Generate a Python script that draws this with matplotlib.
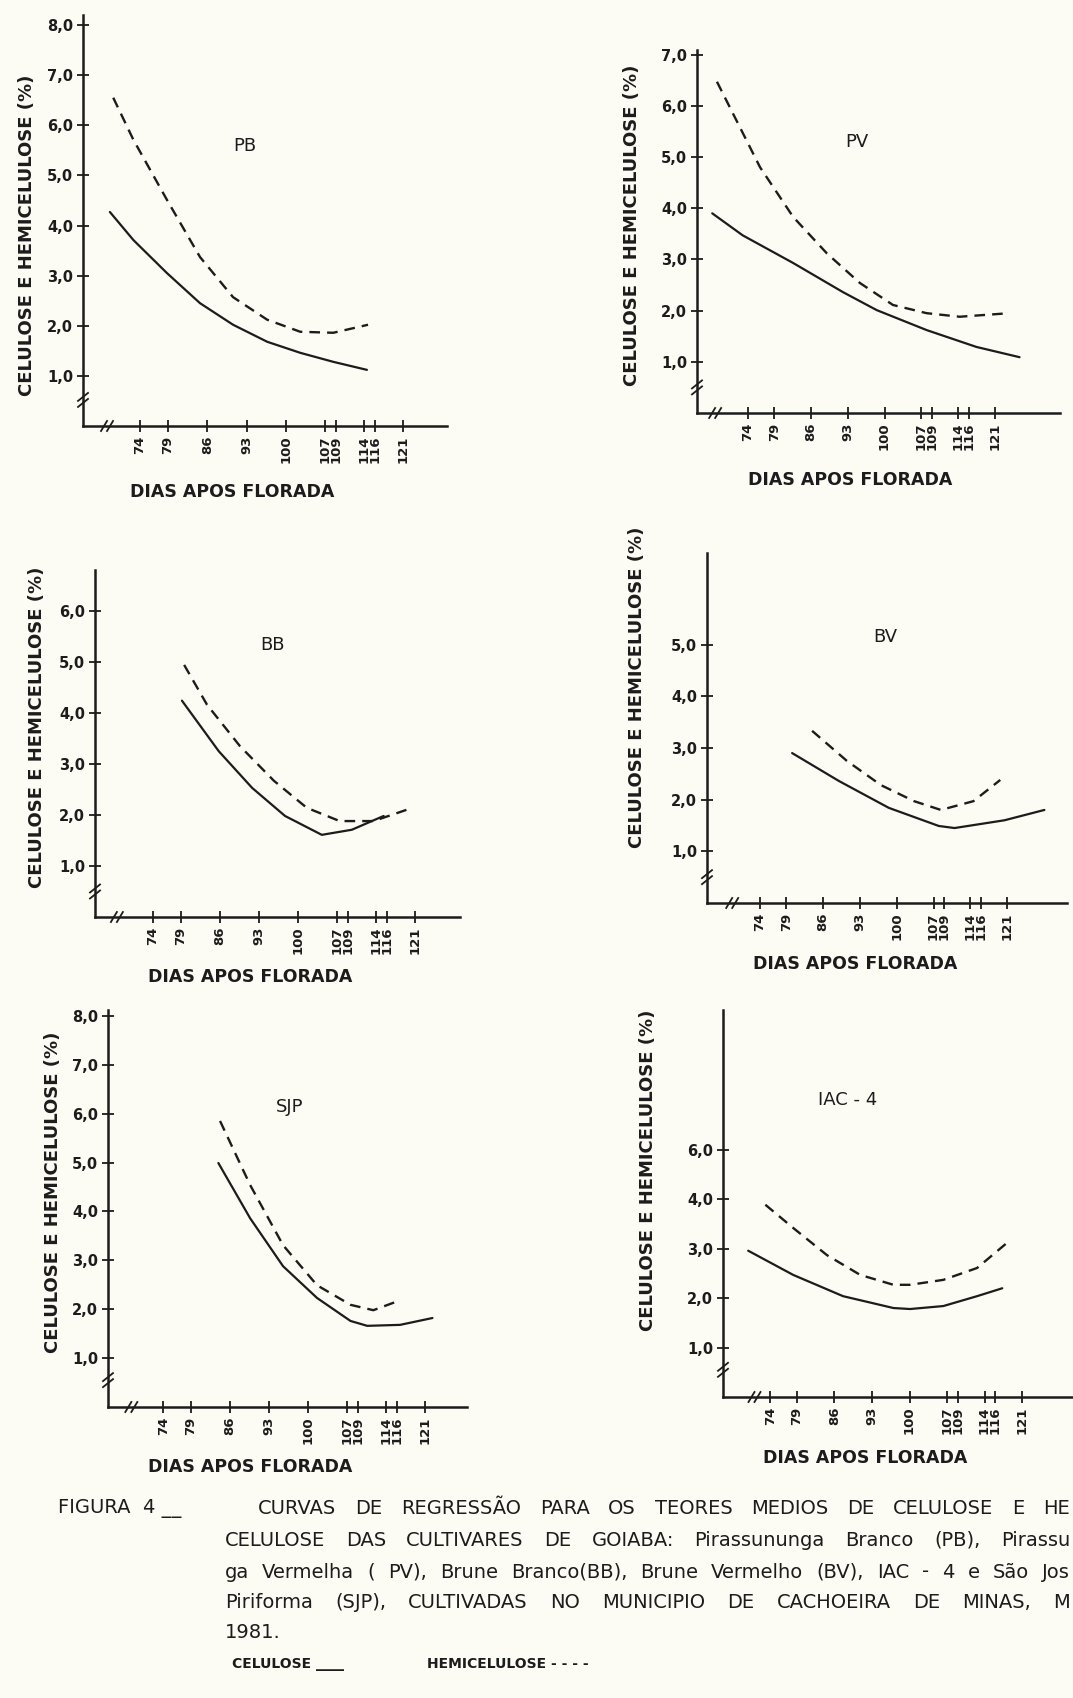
import numpy as np
import matplotlib
matplotlib.use("Agg")
import matplotlib.pyplot as plt

# ---------------- data ----------------
xtick_days = [74, 79, 86, 93, 100, 107, 109, 114, 116, 121]
xtick_labels = [str(d) for d in xtick_days]

# PB
pb_cel_days = [68.6, 72.8, 78.8, 84.7, 90.6, 96.7, 102.6, 108.5, 114.5]
pb_cel_vals = [4.27, 3.71, 3.05, 2.45, 2.02, 1.68, 1.46, 1.28, 1.12]
pb_hem_days = [69.2, 72.8, 78.8, 84.7, 90.6, 96.7, 102.6, 108.5, 114.7]
pb_hem_vals = [6.55, 5.71, 4.51, 3.37, 2.57, 2.12, 1.88, 1.86, 2.02]
# PV
pv_cel_days = [67.2, 73.0, 82.6, 92.1, 98.5, 108.0, 117.5, 125.7]
pv_cel_vals = [3.90, 3.47, 2.93, 2.36, 2.01, 1.62, 1.29, 1.09]
pv_hem_days = [68.1, 76.3, 82.6, 89.0, 95.3, 101.6, 108.0, 114.3, 123.8]
pv_hem_vals = [6.47, 4.80, 3.83, 3.12, 2.54, 2.11, 1.95, 1.88, 1.95]
# BB
bb_cel_days = [79.2, 85.8, 91.8, 97.7, 104.3, 109.7, 115.4]
bb_cel_vals = [4.24, 3.25, 2.53, 1.98, 1.61, 1.71, 1.98]
bb_hem_days = [79.6, 83.7, 89.6, 95.7, 101.6, 107.5, 113.6, 119.5]
bb_hem_vals = [4.94, 4.16, 3.35, 2.67, 2.14, 1.88, 1.88, 2.10]
# BV
bv_cel_days = [80.1, 89.0, 98.5, 108.0, 111.0, 120.5, 128.1]
bv_cel_vals = [2.90, 2.36, 1.84, 1.49, 1.45, 1.60, 1.80]
bv_hem_days = [83.9, 90.5, 97.0, 103.3, 108.4, 114.6, 119.7]
bv_hem_vals = [3.33, 2.75, 2.28, 1.97, 1.80, 1.97, 2.38]
# SJP
sjp_cel_days = [83.9, 89.6, 95.5, 101.6, 107.6, 110.6, 116.5, 122.3]
sjp_cel_vals = [4.99, 3.86, 2.88, 2.23, 1.76, 1.66, 1.68, 1.82]
sjp_hem_days = [84.2, 89.6, 95.5, 101.6, 107.6, 111.7, 116.2]
sjp_hem_vals = [5.85, 4.54, 3.31, 2.49, 2.09, 1.98, 2.17]
# IAC-4
iac_cel_days = [69.9, 78.3, 87.6, 97.0, 100.1, 106.3, 112.6, 117.3]
iac_cel_vals = [2.96, 2.47, 2.04, 1.80, 1.78, 1.84, 2.04, 2.20]
iac_hem_days = [73.1, 78.3, 84.6, 90.8, 97.0, 100.1, 106.3, 112.6, 118.2]
iac_hem_vals = [3.89, 3.42, 2.87, 2.47, 2.27, 2.27, 2.37, 2.61, 3.12]

pb_yticks = [1, 2, 3, 4, 5, 6, 7, 8]
pv_yticks = [1, 2, 3, 4, 5, 6, 7]
bb_yticks = [1, 2, 3, 4, 5, 6]
bv_yticks = [1, 2, 3, 4, 5]
sjp_yticks = [1, 2, 3, 4, 5, 6, 7, 8]
iac_yticks = [1, 2, 3, 4, 5]
pb_ylabels = ["1,0", "2,0", "3,0", "4,0", "5,0", "6,0", "7,0", "8,0"]
pv_ylabels = ["1,0", "2,0", "3,0", "4,0", "5,0", "6,0", "7,0"]
bb_ylabels = ["1,0", "2,0", "3,0", "4,0", "5,0", "6,0"]
bv_ylabels = ["1,0", "2,0", "3,0", "4,0", "5,0"]
sjp_ylabels = ["1,0", "2,0", "3,0", "4,0", "5,0", "6,0", "7,0", "8,0"]
iac_ylabels = ["1,0", "2,0", "3,0", "4,0", "6,0"]

titles = ["PB", "PV", "BB", "BV", "SJP", "IAC - 4"]
ylabel_text = "CELULOSE E HEMICELULOSE (%)"
xlabel_text = "DIAS APOS FLORADA"

caption_lines = [
    "CURVAS DE REGRESSÃO PARA OS TEORES MEDIOS DE CELULOSE E HE",
    "CELULOSE DAS CULTIVARES DE GOIABA: Pirassununga Branco (PB), Pirassu",
    "ga Vermelha ( PV), Brune Branco(BB), Brune Vermelho (BV), IAC - 4 e São Jos",
    "Piriforma (SJP), CULTIVADAS NO MUNICIPIO DE CACHOEIRA DE MINAS, M",
]
caption_year = "1981."
figure_tag = "FIGURA  4 __"
legend_cel = "CELULOSE ____"
legend_hem = "HEMICELULOSE - - - -"

# ---------------- layout (pixels of the 1073x1698 canvas) ----------------
W, H = 1073, 1698
layout = [
    dict(x0=83, x1=447, ytop=15, ybase=426, xlim=(63.8, 128.8), ymax=8.2,
         title=(245, 146), ylab=(27, 235), xlab=(232, 492), ybrk=0.52, xbrk=0.066),
    dict(x0=697, x1=1060, ytop=50, ybase=413, xlim=(64.3, 133.4), ymax=7.09,
         title=(857, 142), ylab=(632, 225), xlab=(850, 480), ybrk=0.5, xbrk=0.05),
    dict(x0=95, x1=460, ytop=570, ybase=917, xlim=(63.6, 129.1), ymax=6.8,
         title=(273, 645), ylab=(37, 727), xlab=(250, 977), ybrk=0.5, xbrk=0.06),
    dict(x0=707, x1=1067, ytop=553, ybase=903, xlim=(63.9, 132.4), ymax=6.77,
         title=(885, 637), ylab=(637, 687), xlab=(855, 964), ybrk=0.5, xbrk=0.07),
    dict(x0=108, x1=467, ytop=1010, ybase=1407, xlim=(64.1, 128.5), ymax=8.12,
         title=(290, 1107), ylab=(53, 1192), xlab=(250, 1467), ybrk=0.55, xbrk=0.065),
    dict(x0=723, x1=1073, ytop=1010, ybase=1397, xlim=(65.2, 130.5), ymax=7.83,
         title=(848, 1100), ylab=(648, 1170), xlab=(865, 1458), ybrk=0.55, xbrk=0.09),
]
caption_rows = [(258, 1508), (225, 1540), (225, 1572), (225, 1603)]
caption_right = 1070

series = [
    (pb_cel_days, pb_cel_vals, pb_hem_days, pb_hem_vals, pb_yticks, pb_ylabels),
    (pv_cel_days, pv_cel_vals, pv_hem_days, pv_hem_vals, pv_yticks, pv_ylabels),
    (bb_cel_days, bb_cel_vals, bb_hem_days, bb_hem_vals, bb_yticks, bb_ylabels),
    (bv_cel_days, bv_cel_vals, bv_hem_days, bv_hem_vals, bv_yticks, bv_ylabels),
    (sjp_cel_days, sjp_cel_vals, sjp_hem_days, sjp_hem_vals, sjp_yticks, sjp_ylabels),
    (iac_cel_days, iac_cel_vals, iac_hem_days, iac_hem_vals, iac_yticks, iac_ylabels),
]

INK = "#1c1c1c"
PAPER = "#fcfbf4"

fig = plt.figure(figsize=(W / 100, H / 100), dpi=100, facecolor=PAPER)


def fx(px):
    return px / W


def fy(py):
    return 1 - py / H


for lay, (cd, cv, hd, hv, yt, yl), title in zip(layout, series, titles):
    w = lay["x1"] - lay["x0"]
    h = lay["ybase"] - lay["ytop"]
    ax = fig.add_axes([fx(lay["x0"]), fy(lay["ybase"]), w / W, h / H])
    ax.set_facecolor("none")
    ax.set_xlim(*lay["xlim"])
    ax.set_ylim(0, lay["ymax"])
    for s in ("top", "right"):
        ax.spines[s].set_visible(False)
    for s in ("left", "bottom"):
        ax.spines[s].set_linewidth(1.8)
        ax.spines[s].set_color(INK)
    ax.set_xticks(xtick_days)
    ax.set_xticklabels(xtick_labels, rotation=90, fontsize=9.5, fontweight="bold",
                       color=INK)
    ax.set_yticks(yt)
    ax.set_yticklabels(yl, fontsize=10.5, fontweight="bold", color=INK)
    ax.tick_params(direction="inout", length=8, width=1.3, color=INK, pad=3)

    ax.plot(cd, cv, color=INK, lw=1.6, solid_capstyle="round")
    ax.plot(hd, hv, color=INK, lw=1.7, linestyle=(0, (4.5, 3.0)))

    # axis break marks
    yb = lay["ybrk"] / lay["ymax"]
    for k in (-1, 1):
        ax.plot([-5 / w, 5 / w], [yb + (k * 3 - 4) / h, yb + (k * 3 + 4) / h],
                transform=ax.transAxes, color=INK, lw=1.3, clip_on=False)
    xb = lay["xbrk"]
    for k in (-1, 1):
        ax.plot([xb + (k * 3 - 3) / w, xb + (k * 3 + 3) / w], [-5 / h, 5 / h],
                transform=ax.transAxes, color=INK, lw=1.3, clip_on=False)

    fig.text(fx(lay["title"][0]), fy(lay["title"][1]), title, ha="center",
             va="center", fontsize=13, color=INK)
    fig.text(fx(lay["ylab"][0]), fy(lay["ylab"][1]), ylabel_text, ha="center",
             va="center", rotation=90, fontsize=13, fontweight="bold", color=INK)
    fig.text(fx(lay["xlab"][0]), fy(lay["xlab"][1]), xlabel_text, ha="center",
             va="center", fontsize=12.5, fontweight="bold", color=INK)

# ---------------- caption (typewriter-like justified lines) ----------------
CAP_FS = 14
renderer = fig.canvas.get_renderer()
fig.text(fx(58), fy(1508), figure_tag, ha="left", va="center", fontsize=CAP_FS,
         color=INK)
for (x_start, y), line in zip(caption_rows, caption_lines):
    words = line.split(" ")
    texts = [fig.text(0, fy(y), wd, ha="left", va="center", fontsize=CAP_FS,
                      color=INK) for wd in words]
    widths = [t.get_window_extent(renderer).width for t in texts]
    gap = (caption_right - x_start - sum(widths)) / max(len(words) - 1, 1)
    x = x_start
    for t, wd in zip(texts, widths):
        t.set_x(fx(x))
        x += wd + gap
fig.text(fx(225), fy(1633), caption_year, ha="left", va="center",
         fontsize=CAP_FS, color=INK)

fig.text(fx(232), fy(1664), legend_cel, ha="left", va="center",
         fontsize=10, fontweight="bold", color=INK)
fig.text(fx(427), fy(1664), legend_hem, ha="left", va="center",
         fontsize=10, fontweight="bold", color=INK)

fig.savefig("out.png", dpi=100, facecolor=PAPER)
